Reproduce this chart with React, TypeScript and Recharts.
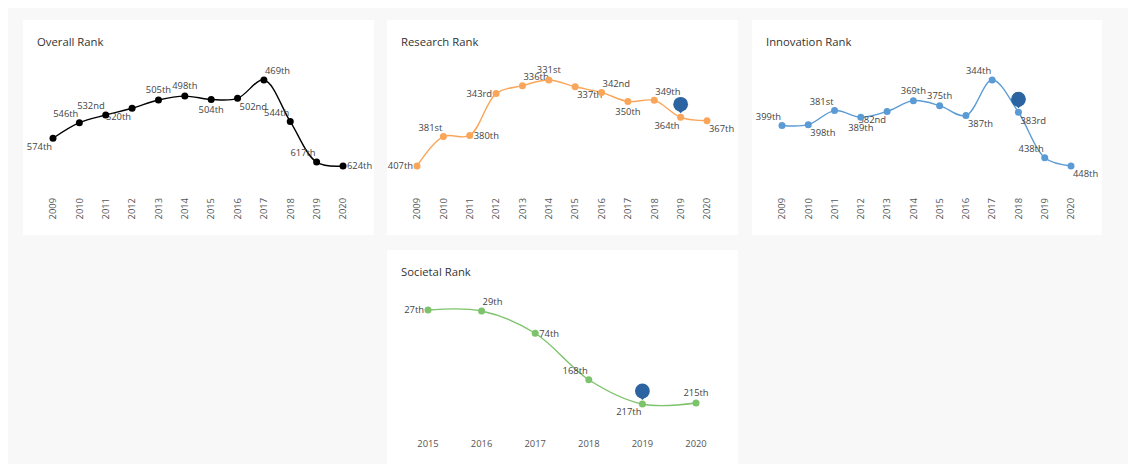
import React from "react";
import { LineChart, Line, XAxis, YAxis } from "recharts";

// ---- data ----
const years = ["2009", "2010", "2011", "2012", "2013", "2014", "2015", "2016", "2017", "2018", "2019", "2020"];
const overallRank = [574, 546, 532, 520, 505, 498, 504, 502, 469, 544, 617, 624];
const researchRank = [407, 381, 380, 343, 336, 331, 337, 342, 350, 349, 364, 367];
const innovationRank = [399, 398, 381, 389, 382, 369, 375, 387, 344, 383, 438, 448];
const societalYears = ["2015", "2016", "2017", "2018", "2019", "2020"];
const societalRank = [27, 29, 74, 168, 217, 215];

// where each value label sits around its point
const overallPlace = ["bl", "tl", "tl", "bl", "t", "t", "b", "br", "tr", "tl", "tl", "r"];
const researchPlace = ["l", "tl", "r", "l", "tr", "t", "br", "tr", "b", "tr", "bl", "br"];
const innovationPlace = ["tl", "br", "tl", "b", "bl", "t", "t", "br", "tl", "br", "tl", "br"];
const societalPlace = ["l", "tr", "r", "tl", "bl", "t"];

const FONT = "'Open Sans', sans-serif";

const PLACE: Record<string, { dx: number; dy: number; anchor: "start" | "middle" | "end" }> = {
  l: { dx: -4, dy: 0, anchor: "end" },
  r: { dx: 4, dy: 0, anchor: "start" },
  t: { dx: 0, dy: -10, anchor: "middle" },
  b: { dx: 0, dy: 10, anchor: "middle" },
  tl: { dx: -1, dy: -9, anchor: "end" },
  tr: { dx: 1, dy: -9, anchor: "start" },
  bl: { dx: -1, dy: 8, anchor: "end" },
  br: { dx: 2, dy: 8, anchor: "start" },
};

function ordinal(n: number) {
  const m100 = n % 100;
  if (m100 >= 11 && m100 <= 13) return n + "th";
  const m = n % 10;
  if (m === 1) return n + "st";
  if (m === 2) return n + "nd";
  if (m === 3) return n + "rd";
  return n + "th";
}

// plotly-like spline (catmull-rom style tangents)
function makeTangent(p0: number[], p1: number[], p2: number[], s: number) {
  const d1x = p0[0] - p1[0];
  const d1y = p0[1] - p1[1];
  const d2x = p2[0] - p1[0];
  const d2y = p2[1] - p1[1];
  const d1a = Math.pow(d1x * d1x + d1y * d1y, 0.25);
  const d2a = Math.pow(d2x * d2x + d2y * d2y, 0.25);
  const numx = (d2a * d2a * d1x - d1a * d1a * d2x) * s;
  const numy = (d2a * d2a * d1y - d1a * d1a * d2y) * s;
  const den1 = 3 * d2a * (d1a + d2a);
  const den2 = 3 * d1a * (d1a + d2a);
  return [
    [p1[0] + (den1 && numx / den1), p1[1] + (den1 && numy / den1)],
    [p1[0] - (den2 && numx / den2), p1[1] - (den2 && numy / den2)],
  ];
}

const splineCurve = (context: any) => {
  let pts: number[][] = [];
  return {
    areaStart() {},
    areaEnd() {},
    lineStart() {
      pts = [];
    },
    point(x: number, y: number) {
      pts.push([+x, +y]);
    },
    lineEnd() {
      const n = pts.length;
      if (!n) return;
      context.moveTo(pts[0][0], pts[0][1]);
      if (n < 3) {
        for (let i = 1; i < n; i++) context.lineTo(pts[i][0], pts[i][1]);
        return;
      }
      const tan: number[][][] = [];
      for (let i = 1; i < n - 1; i++) tan.push(makeTangent(pts[i - 1], pts[i], pts[i + 1], 1));
      context.quadraticCurveTo(tan[0][0][0], tan[0][0][1], pts[1][0], pts[1][1]);
      for (let i = 2; i < n - 1; i++) {
        const a = tan[i - 2][1];
        const b = tan[i - 1][0];
        context.bezierCurveTo(a[0], a[1], b[0], b[1], pts[i][0], pts[i][1]);
      }
      const c = tan[n - 3][1];
      context.quadraticCurveTo(c[0], c[1], pts[n - 1][0], pts[n - 1][1]);
    },
  };
};

function Pin({ cx, cy }: { cx: number; cy: number }) {
  const c = cy - 13;
  return (
    <g>
      <path d={`M${cx - 3.5},${c + 5.5} L${cx},${cy - 4} L${cx + 3.5},${c + 5.5} Z`} fill="#2b64a0" />
      <circle cx={cx} cy={c} r={7.4} fill="#2b64a0" />
    </g>
  );
}

function makeDot(color: string, highlight?: string) {
  return (props: any) => {
    const { cx, cy, payload, index } = props;
    return (
      <g key={"d" + index}>
        <circle cx={cx} cy={cy} r={3.5} fill={color} />
        {payload && payload.year === highlight ? <Pin cx={cx} cy={cy} /> : null}
      </g>
    );
  };
}

function makeLabel(places: string[]) {
  return (props: any) => {
    const { cx, cy, value, index } = props;
    const p = PLACE[places[index]] || PLACE.t;
    return (
      <text
        key={"l" + index}
        x={cx + p.dx}
        y={cy + p.dy}
        dy="0.35em"
        textAnchor={p.anchor}
        fontSize={9.4}
        fontFamily={FONT}
        fill="#444"
      >
        {ordinal(value)}
      </text>
    );
  };
}

const RotatedTick = (props: any) => {
  const { x, y, payload } = props;
  return (
    <text
      x={x}
      y={y + 12}
      dy="0.35em"
      textAnchor="end"
      transform={`rotate(-90, ${x}, ${y + 12})`}
      fontSize={9.4}
      fontFamily={FONT}
      fill="#555"
    >
      {payload.value}
    </text>
  );
};

const FlatTick = (props: any) => {
  const { x, y, payload } = props;
  return (
    <text x={x} y={y + 20} dy="0.35em" textAnchor="middle" fontSize={9.4} fontFamily={FONT} fill="#555">
      {payload.value}
    </text>
  );
};

type CardProps = {
  title: string;
  cats: string[];
  values: number[];
  places: string[];
  color: string;
  highlight?: string;
  left: number;
  top: number;
  width: number;
  height: number;
  chartHeight: number;
  flat?: boolean;
};

function RankCard({ title, cats, values, places, color, highlight, left, top, width, height, chartHeight, flat }: CardProps) {
  const data = cats.map((year, i) => ({ year, rank: values[i] }));
  const side = flat ? 41 : 30;
  return (
    <div style={{ position: "absolute", left, top, width, height, background: "#fff" }}>
      <div
        style={{
          position: "absolute",
          left: 14,
          top: 14,
          fontFamily: FONT,
          fontSize: 11.3,
          color: "#333",
          lineHeight: "normal",
          whiteSpace: "nowrap",
        }}
      >
        {title}
      </div>
      <LineChart width={width} height={chartHeight} data={data} margin={{ top: 40, right: side + 1, bottom: 0, left: side }}>
        <XAxis
          dataKey="year"
          interval={0}
          tickLine={false}
          axisLine={false}
          tickSize={0}
          tickMargin={0}
          height={flat ? 40 : 49}
          tick={flat ? <FlatTick /> : <RotatedTick />}
        />
        <YAxis hide reversed domain={["dataMin", "dataMax"]} padding={{ top: 20, bottom: 20 }} />
        <Line
          dataKey="rank"
          stroke="none"
          dot={makeLabel(places)}
          activeDot={false}
          isAnimationActive={false}
        />
        <Line
          dataKey="rank"
          type={splineCurve as any}
          stroke={color}
          strokeWidth={1.4}
          dot={makeDot(color, highlight)}
          activeDot={false}
          isAnimationActive={false}
        />
      </LineChart>
    </div>
  );
}

export default function App() {
  return (
    <div style={{ position: "relative", width: 1128, height: 470, background: "#f8f8f8" }}>
      <RankCard title="Overall Rank" cats={years} values={overallRank} places={overallPlace} color="#000" left={15} top={12} width={351} height={215} chartHeight={215} />
      <RankCard title="Research Rank" cats={years} values={researchRank} places={researchPlace} color="#f9a65a" highlight="2019" left={379} top={12} width={351} height={215} chartHeight={215} />
      <RankCard title="Innovation Rank" cats={years} values={innovationRank} places={innovationPlace} color="#5b9bd5" highlight="2018" left={744} top={12} width={350} height={215} chartHeight={215} />
      <RankCard title="Societal Rank" cats={societalYears} values={societalRank} places={societalPlace} color="#7cc36b" highlight="2019" left={379} top={242} width={351} height={222} chartHeight={214} flat />
    </div>
  );
}
